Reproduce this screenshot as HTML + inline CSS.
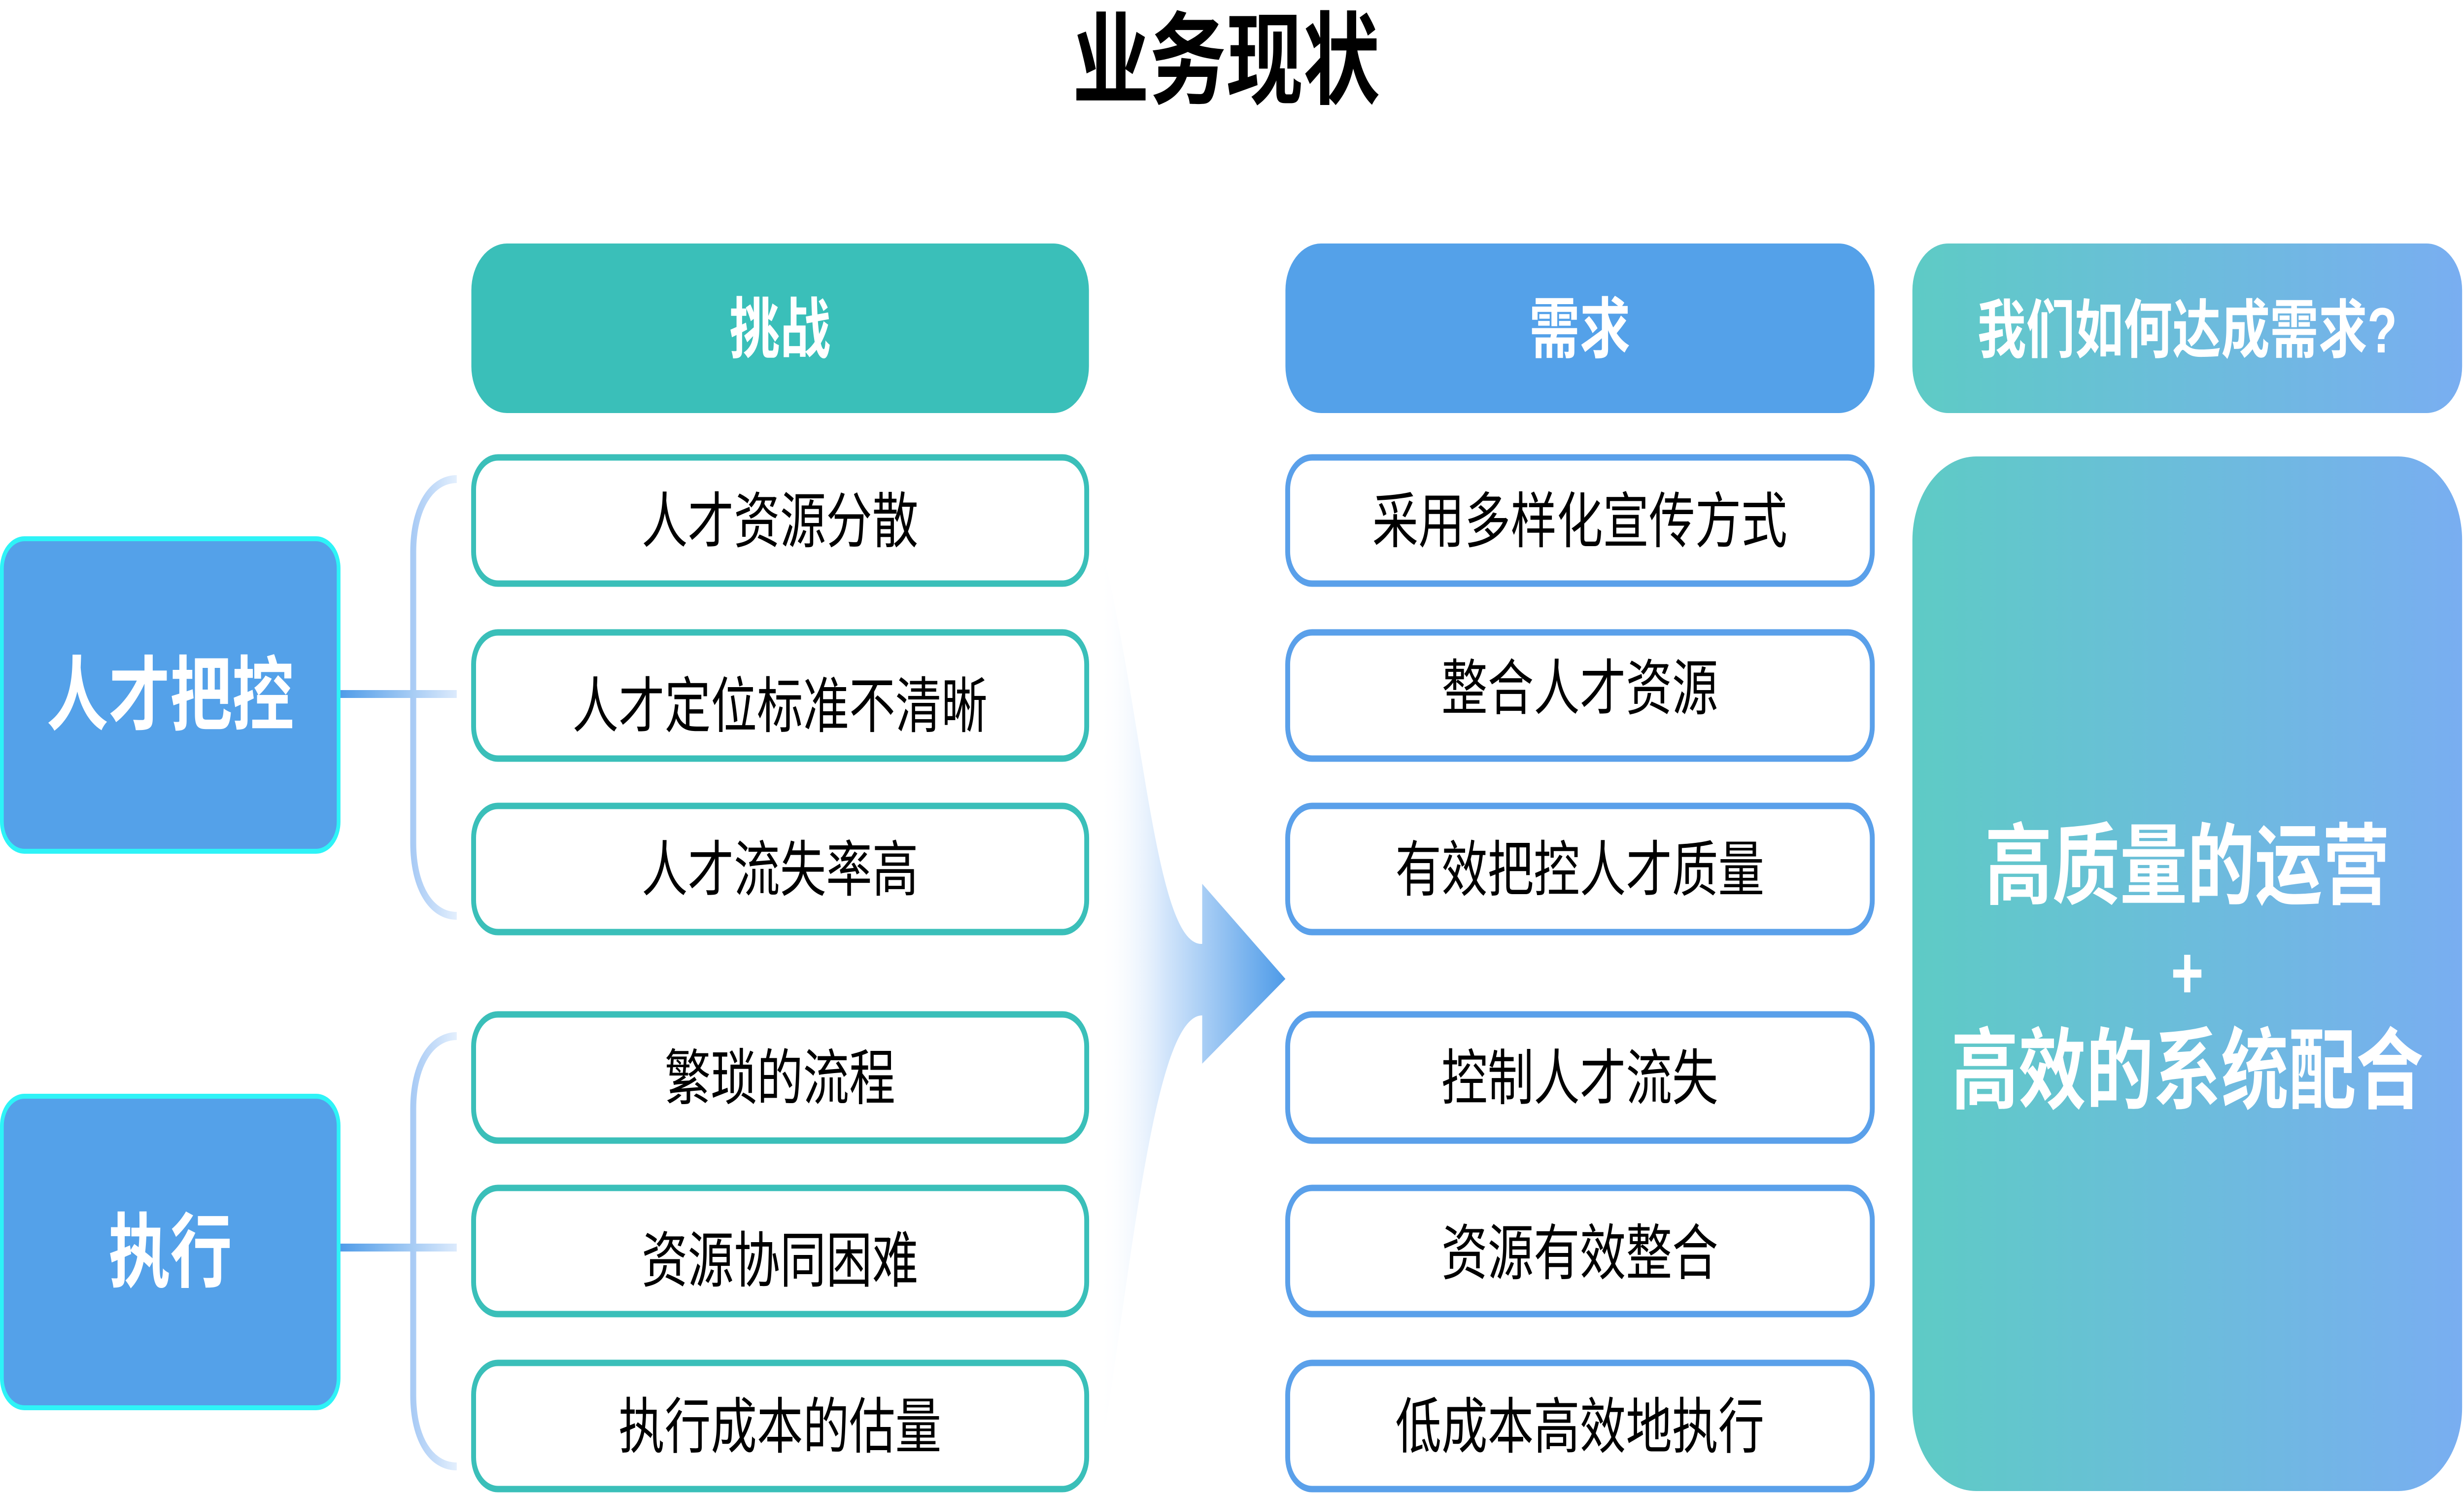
<!DOCTYPE html>
<html><head><meta charset="utf-8"><style>
html,body{margin:0;padding:0;background:#fff;overflow:hidden;width:100vw;height:100vh;}
svg{display:block;width:100vw;height:100vh;}
svg text{font-family:"Liberation Sans","Noto Sans CJK SC",sans-serif;}
</style></head><body>
<svg viewBox="0 0 6571 3033" preserveAspectRatio="none" xmlns="http://www.w3.org/2000/svg">
<defs>
<linearGradient id="fun" x1="2930" y1="0" x2="3428" y2="0" gradientUnits="userSpaceOnUse">
<stop offset="0" stop-color="#ffffff" stop-opacity="0"/><stop offset="0.35" stop-color="#d4e6fb"/><stop offset="1" stop-color="#4e9be8"/></linearGradient>
<linearGradient id="rg" x1="0" y1="0" x2="1" y2="0"><stop offset="0" stop-color="#5ecbc5"/><stop offset="1" stop-color="#79aef1"/></linearGradient>
<linearGradient id="conn" x1="0" y1="0" x2="1" y2="0"><stop offset="0" stop-color="#4e9be8"/><stop offset="1" stop-color="#dceafc"/></linearGradient>
<linearGradient id="br" x1="0" y1="0" x2="1" y2="0"><stop offset="0" stop-color="#a9cbf5"/><stop offset="1" stop-color="#e3effd"/></linearGradient>
</defs>
<text x="3270" y="195" font-size="205" font-weight="bold" text-anchor="middle" fill="#000">业务现状</text>

<path d="M2935 1100 C3050 1450 3080 1920 3206 1915 L3206 1793 L3428 1986 L3206 2158 L3206 2060 C3080 2060 3020 2550 2935 2960 Z" fill="url(#fun)"/>

<rect x="1257" y="494" width="1647" height="344" rx="95" fill="#3abfb9"/>
<text x="2080" y="715" font-size="135" font-weight="bold" text-anchor="middle" fill="#fff">挑战</text>
<rect x="3428" y="494" width="1571" height="344" rx="95" fill="#54a1e9"/>
<text x="4213" y="715" font-size="135" font-weight="bold" text-anchor="middle" fill="#fff">需求</text>
<rect x="5100" y="494" width="1466" height="344" rx="95" fill="url(#rg)"/>
<text x="5833" y="715" font-size="130" font-weight="bold" text-anchor="middle" fill="#fff">我们如何达成需求?</text>

<rect x="5100" y="926" width="1466" height="2099" rx="170" fill="url(#rg)"/>
<text x="5833" y="1820" font-size="180" font-weight="bold" text-anchor="middle" fill="#fff">高质量的运营</text>
<text x="5833" y="2025" font-size="150" font-weight="bold" text-anchor="middle" fill="#fff">+</text>
<text x="5833" y="2235" font-size="180" font-weight="bold" text-anchor="middle" fill="#fff">高效的系统配合</text>

<g fill="#fff" stroke="#3abfb9" stroke-width="13">
<rect x="1263" y="928" width="1635" height="256" rx="65"/>
<rect x="1263" y="1283" width="1635" height="256" rx="65"/>
<rect x="1263" y="1635" width="1635" height="256" rx="65"/>
<rect x="1263" y="2058" width="1635" height="256" rx="65"/>
<rect x="1263" y="2410" width="1635" height="256" rx="65"/>
<rect x="1263" y="2765" width="1635" height="256" rx="65"/>
</g>
<g fill="#fff" stroke="#5aa0ea" stroke-width="13">
<rect x="3434" y="928" width="1559" height="256" rx="65"/>
<rect x="3434" y="1283" width="1559" height="256" rx="65"/>
<rect x="3434" y="1635" width="1559" height="256" rx="65"/>
<rect x="3434" y="2058" width="1559" height="256" rx="65"/>
<rect x="3434" y="2410" width="1559" height="256" rx="65"/>
<rect x="3434" y="2765" width="1559" height="256" rx="65"/>
</g>
<g font-size="123" text-anchor="middle" fill="#000">
<text x="2080" y="1100">人才资源分散</text>
<text x="2080" y="1475">人才定位标准不清晰</text>
<text x="2080" y="1807">人才流失率高</text>
<text x="2080" y="2230">繁琐的流程</text>
<text x="2080" y="2600">资源协同困难</text>
<text x="2080" y="2937">执行成本的估量</text>
<text x="4213" y="1100">采用多样化宣传方式</text>
<text x="4213" y="1439">整合人才资源</text>
<text x="4213" y="1807">有效把控人才质量</text>
<text x="4213" y="2230">控制人才流失</text>
<text x="4213" y="2585">资源有效整合</text>
<text x="4213" y="2937">低成本高效地执行</text>
</g>

<g fill="none" stroke="url(#br)" stroke-width="16">
<path d="M1218 972 C1150 972 1102 1030 1102 1120 L1102 1710 C1102 1800 1150 1858 1218 1858"/>
<path d="M1218 2102 C1150 2102 1102 2160 1102 2250 L1102 2830 C1102 2920 1150 2975 1218 2975"/>
</g>
<rect x="905" y="1400" width="313" height="16" fill="url(#conn)"/>
<rect x="905" y="2523" width="313" height="16" fill="url(#conn)"/>

<rect x="5" y="1093" width="898" height="634" rx="60" fill="#54a1e9" stroke="#2ef3f7" stroke-width="10"/>
<text x="454" y="1468" font-size="165" font-weight="bold" text-anchor="middle" fill="#fff">人才把控</text>
<rect x="5" y="2224" width="898" height="632" rx="60" fill="#54a1e9" stroke="#2ef3f7" stroke-width="10"/>
<text x="454" y="2598" font-size="165" font-weight="bold" text-anchor="middle" fill="#fff">执行</text>
</svg>
</body></html>
